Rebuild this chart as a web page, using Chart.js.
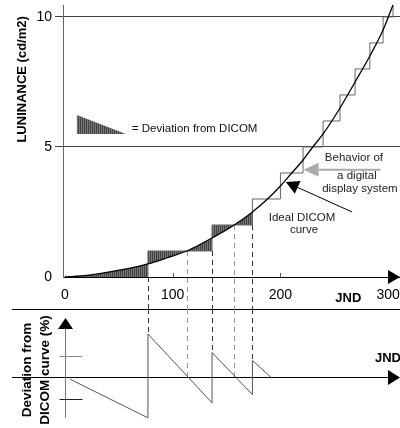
<!DOCTYPE html>
<html lang="en">
<head>
    <meta charset="UTF-8">
    <title>DICOM curve vs digital display</title>
    <script src="https://cdn.jsdelivr.net/npm/chart.js"></script>
    <style>
        body { margin: 0; background: #fff; }
        canvas { display: block; }
    </style>
</head>
<body>
    <canvas id="lumChart" width="400" height="309"></canvas>
    <canvas id="devChart" width="400" height="119"></canvas>

    <script>
        // Ideal DICOM curve (JND index -> luminance, cd/m2)
        const curveJnd = [0, 15, 32, 50, 65, 77, 95, 113, 125, 136.5, 147, 157, 166, 174, 188, 200, 210.5, 221, 230, 239.6, 255.3, 269.3, 283, 295.3, 304.5];
        const curveLum = [0, 0.04, 0.13, 0.26, 0.38, 0.5, 0.74, 1.0, 1.24, 1.5, 1.74, 2.0, 2.25, 2.5, 3.0, 3.5, 4.0, 4.5, 5.0, 5.5, 6.5, 7.5, 8.5, 9.5, 10.46];

        // Digital display: each luminance level starts at a JND value
        const stepStart = [0, 77, 136.5, 174, 200, 221, 239.6, 255.3, 269.3, 283, 295.3, 304.5];
        const stepLevel = [0, 1, 2, 3, 4, 5, 6, 7, 8, 9, 10, 11];
        const stepEnd = 311;

        // JND values where the display crosses the ideal curve
        const crossJnd = [113, 157];
        const shadedUntil = 174;

        // Deviation from the DICOM curve (%), sawtooth
        const devJnd = [4.6, 77, 77, 136.5, 136.5, 174, 174, 192];
        const devPct = [-0.1, -1.9, 2.0, -1.2, 1.14, -0.82, 0.77, -0.05];

        const lumTicks = [0, 5, 10];
        const jndTicks = [0, 100, 200, 300];
        const devTicks = [1, -1];

        const FONT = "'Liberation Sans', Arial, sans-serif";

        // vertical hatch used for the deviation areas
        const hatch = (() => {
            const c = document.createElement('canvas');
            c.width = 2; c.height = 4;
            const g = c.getContext('2d');
            g.fillStyle = '#404040'; g.fillRect(0, 0, 2, 4);
            g.fillStyle = '#7a7a7a'; g.fillRect(1, 0, 1, 4);
            return g.createPattern(c, 'repeat');
        })();

        function levelAt(v) {
            let lv = stepLevel[0];
            stepStart.forEach((s, i) => { if (s <= v) lv = stepLevel[i]; });
            return lv;
        }

        // points of the step line
        const stepPts = [];
        stepStart.forEach((s, i) => {
            const e = i + 1 < stepStart.length ? stepStart[i + 1] : stepEnd;
            stepPts.push({ x: s, y: stepLevel[i] }, { x: e, y: stepLevel[i] });
        });

        // closed areas between the curve and the steps
        const shadeEdges = [0, ...stepStart.filter(v => v > 0 && v <= shadedUntil), ...crossJnd].sort((a, b) => a - b);
        const dropJnd = shadeEdges.slice(1);
        const shadeSets = [];
        for (let i = 0; i + 1 < shadeEdges.length; i++) {
            const a = shadeEdges[i], b = shadeEdges[i + 1];
            const lv = levelAt((a + b) / 2);
            const pts = curveJnd.map((x, k) => ({ x: x, y: curveLum[k] })).filter(p => p.x >= a && p.x <= b);
            pts.push({ x: b, y: lv }, { x: a, y: lv });
            shadeSets.push({
                data: pts, fill: 'shape', backgroundColor: hatch,
                borderColor: 'rgba(0,0,0,0)', borderWidth: 0, tension: 0
            });
        }

        function arrow(ctx, x1, y1, x2, y2, color, width, len, half) {
            const a = Math.atan2(y2 - y1, x2 - x1);
            const bx = x2 - len * Math.cos(a), by = y2 - len * Math.sin(a);
            ctx.strokeStyle = color; ctx.fillStyle = color; ctx.lineWidth = width;
            ctx.beginPath(); ctx.moveTo(x1, y1); ctx.lineTo(bx, by); ctx.stroke();
            ctx.beginPath();
            ctx.moveTo(x2, y2);
            ctx.lineTo(bx + half * Math.sin(a), by - half * Math.cos(a));
            ctx.lineTo(bx - half * Math.sin(a), by + half * Math.cos(a));
            ctx.closePath(); ctx.fill();
        }

        const lumDecor = {
            id: 'lumDecor',
            beforeDatasetsDraw(chart) {
                const { ctx, scales: { x, y } } = chart;
                ctx.save();
                ctx.setLineDash([5, 4]);
                ctx.lineWidth = 1;
                dropJnd.forEach(v => {
                    const px = Math.round(x.getPixelForValue(v)) + 0.5;
                    ctx.strokeStyle = crossJnd.includes(v) ? '#999' : '#333';
                    ctx.beginPath();
                    ctx.moveTo(px, y.getPixelForValue(levelAt(v - 0.01)));
                    ctx.lineTo(px, chart.height);
                    ctx.stroke();
                });
                ctx.restore();
            },
            afterDraw(chart) {
                const { ctx, scales: { x, y } } = chart;
                const y0 = y.getPixelForValue(0);
                ctx.save();
                // small ticks on the JND axis
                ctx.strokeStyle = '#555'; ctx.lineWidth = 1;
                jndTicks.slice(1).forEach(v => {
                    const px = Math.round(x.getPixelForValue(v)) + 0.5;
                    ctx.beginPath(); ctx.moveTo(px, y0); ctx.lineTo(px, y0 - 4); ctx.stroke();
                });
                // axis arrow
                arrow(ctx, chart.width - 12, y0, chart.width, y0, '#000', 1, 12, 7);

                ctx.fillStyle = '#000';
                ctx.font = 'bold 13px ' + FONT;
                ctx.textAlign = 'center'; ctx.textBaseline = 'middle';
                ctx.fillText('JND', x.getPixelForValue(263), 298);

                // luminance axis title
                ctx.save();
                ctx.translate(22, y.getPixelForValue(7.6));
                ctx.rotate(-Math.PI / 2);
                ctx.fillText('LUNINANCE (cd/m2)', 0, 0);
                ctx.restore();

                // legend
                const lx = x.getPixelForValue(11), ly = y.getPixelForValue(5.5);
                ctx.fillStyle = hatch;
                ctx.beginPath();
                ctx.moveTo(lx, ly - 19); ctx.lineTo(lx, ly); ctx.lineTo(lx + 49, ly); ctx.closePath();
                ctx.fill();
                ctx.fillStyle = '#111';
                ctx.font = '11.5px ' + FONT;
                ctx.textAlign = 'left';
                ctx.fillText('= Deviation from DICOM', lx + 55, ly - 5);

                // display system note
                const gy = y.getPixelForValue(4.12);
                arrow(ctx, x.getPixelForValue(293), gy, x.getPixelForValue(221.5), gy, '#aaa', 2, 15, 7);
                ctx.fillStyle = '#222';
                ctx.font = '11.5px ' + FONT;
                ctx.textAlign = 'center';
                const bx = x.getPixelForValue(271);
                ctx.fillText('Behavior of', bx - 3, y.getPixelForValue(4.58));
                ctx.fillText('a digital', bx, y.getPixelForValue(3.9));
                ctx.fillText('display system', bx + 3, y.getPixelForValue(3.4));

                // ideal curve note
                arrow(ctx, x.getPixelForValue(266.5), y.getPixelForValue(2.5),
                    x.getPixelForValue(205), y.getPixelForValue(3.65), '#000', 1, 13, 7);
                ctx.fillStyle = '#222';
                const ix = x.getPixelForValue(220);
                ctx.fillText('Ideal DICOM', ix, y.getPixelForValue(2.27));
                ctx.fillText('curve', ix + 2, y.getPixelForValue(1.81));
                ctx.restore();
            }
        };

        new Chart(document.getElementById('lumChart').getContext('2d'), {
            type: 'line',
            data: {
                datasets: [
                    {
                        data: curveJnd.map((v, i) => ({ x: v, y: curveLum[i] })),
                        borderColor: '#000', borderWidth: 1.3,
                        cubicInterpolationMode: 'monotone', fill: false
                    },
                    {
                        data: stepPts,
                        borderColor: '#666', borderWidth: 1, tension: 0, fill: false
                    },
                    ...shadeSets
                ]
            },
            options: {
                responsive: false,
                animation: false,
                layout: { padding: { top: 5, left: 14, right: 0, bottom: 0 } },
                elements: { point: { radius: 0 } },
                plugins: { legend: { display: false }, tooltip: { enabled: false } },
                scales: {
                    x: {
                        type: 'linear', min: -1.86, max: 311,
                        afterBuildTicks: s => { s.ticks = jndTicks.map(v => ({ value: v })); },
                        afterFit: s => { s.height = 32; s.paddingLeft = 0; s.paddingRight = 0; },
                        grid: { display: false, drawTicks: false },
                        border: { display: true, color: '#000', width: 1 },
                        ticks: {
                            color: '#000', padding: 10, maxRotation: 0, autoSkip: false,
                            font: { family: FONT, size: 14 }
                        }
                    },
                    y: {
                        type: 'linear', min: 0, max: 10.46,
                        afterBuildTicks: s => { s.ticks = lumTicks.map(v => ({ value: v })); },
                        afterFit: s => { s.width = 49; s.paddingTop = 0; s.paddingBottom = 0; },
                        grid: {
                            color: c => c.tick && c.tick.value === 0 ? 'rgba(0,0,0,0)' : '#444',
                            tickLength: 8
                        },
                        border: { color: '#666' },
                        ticks: { color: '#000', padding: 3, font: { family: FONT, size: 14 } }
                    }
                }
            },
            plugins: [lumDecor]
        });

        // lower panel: deviation from DICOM curve
        const devDecor = {
            id: 'devDecor',
            beforeDatasetsDraw(chart) {
                const { ctx, scales: { x, y } } = chart;
                const z = Math.round(y.getPixelForValue(0)) + 0.5;
                const ax = Math.round(x.getPixelForValue(0)) + 0.5;
                ctx.save();
                ctx.lineWidth = 1;
                // separator
                ctx.strokeStyle = '#000';
                ctx.beginPath(); ctx.moveTo(12, 0.5); ctx.lineTo(chart.width, 0.5); ctx.stroke();
                // zero line with arrow
                ctx.beginPath(); ctx.moveTo(12, z); ctx.lineTo(chart.width - 10, z); ctx.stroke();
                arrow(ctx, chart.width - 12, z, chart.width, z, '#000', 1, 12, 7.5);
                // deviation axis with arrow
                ctx.strokeStyle = '#777';
                ctx.beginPath(); ctx.moveTo(ax, y.getPixelForValue(-1.9)); ctx.lineTo(ax, y.getPixelForValue(2.3)); ctx.stroke();
                arrow(ctx, ax, y.getPixelForValue(2.3), ax, y.getPixelForValue(2.75), '#000', 1, 11, 7.5);
                devTicks.forEach(v => {
                    const py = Math.round(y.getPixelForValue(v)) + 0.5;
                    ctx.strokeStyle = v > 0 ? '#888' : '#222';
                    ctx.beginPath(); ctx.moveTo(ax - 6, py); ctx.lineTo(ax + 17, py); ctx.stroke();
                });
                // dashed drop lines
                ctx.setLineDash([5, 4]);
                dropJnd.forEach(v => {
                    const px = Math.round(x.getPixelForValue(v)) + 0.5;
                    const peaks = devJnd.map((d, i) => d === v ? devPct[i] : null).filter(d => d !== null);
                    const end = peaks.length ? Math.max(...peaks) : 0;
                    ctx.strokeStyle = crossJnd.includes(v) ? '#999' : '#333';
                    ctx.beginPath(); ctx.moveTo(px, 0); ctx.lineTo(px, y.getPixelForValue(end)); ctx.stroke();
                });
                ctx.setLineDash([]);
                // labels
                ctx.fillStyle = '#000';
                ctx.font = 'bold 13px ' + FONT;
                ctx.textAlign = 'center'; ctx.textBaseline = 'middle';
                ctx.fillText('JND', 388, y.getPixelForValue(0.88));
                ctx.translate(36, y.getPixelForValue(0.33));
                ctx.rotate(-Math.PI / 2);
                ctx.font = 'bold 13.5px ' + FONT;
                ctx.fillText('Deviation from', 0, -9);
                ctx.fillText('DICOM curve (%)', 0, 9);
                ctx.restore();
            }
        };

        new Chart(document.getElementById('devChart').getContext('2d'), {
            type: 'line',
            data: {
                datasets: [{
                    data: devJnd.map((v, i) => ({ x: v, y: devPct[i] })),
                    borderColor: '#555', borderWidth: 1, tension: 0, fill: false
                }]
            },
            options: {
                responsive: false,
                animation: false,
                layout: { padding: 0 },
                elements: { point: { radius: 0 } },
                plugins: { legend: { display: false }, tooltip: { enabled: false } },
                scales: {
                    x: { type: 'linear', min: -60.35, max: 311, display: false },
                    y: { type: 'linear', min: -2.372, max: 3.163, display: false }
                }
            },
            plugins: [devDecor]
        });
    </script>
</body>
</html>
